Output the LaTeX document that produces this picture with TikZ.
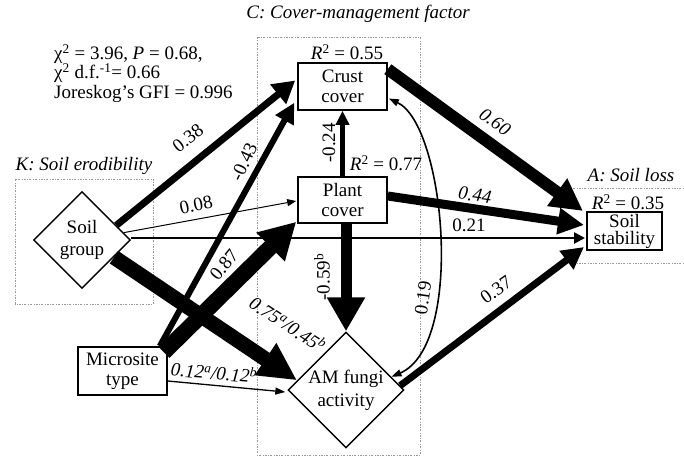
\documentclass[tikz,border=0pt]{standalone}
\usepackage{fontspec}
\setmainfont{Liberation Serif}
\usetikzlibrary{arrows.meta,shapes.geometric,calc}
\begin{document}
\begin{tikzpicture}[x=1pt,y=-1pt, font=\fontsize{19}{20}\selectfont,
 box/.style={draw, line width=1.6pt, fill=white, inner sep=0pt, minimum width=89pt, minimum height=47pt, align=center},
 dia/.style={draw, diamond, aspect=1, line width=1.4pt, fill=white, inner sep=0pt, minimum width=97pt, minimum height=97pt, align=center},
 region/.style={draw=gray!80, line width=0.6pt, dash pattern=on 2pt off 1.5pt on 0.6pt off 1.5pt},
 lab/.style={inner sep=0pt},
 itl/.style={inner sep=0pt, font=\fontsize{19}{20}\selectfont\itshape},
 hd/.style 2 args={-{Triangle[length=#1pt,width=#2pt]}}
]
\useasboundingbox (0,0) rectangle (684,457);

% regions
\draw[region] (257,37) rectangle (420,455);
\draw[region] (15,179) rectangle (153,304);
\draw[region] (573,188) -- (684,188);
\draw[region] (573,263) -- (684,263);

\node[itl] (ttlC) at (358,14) {C: Cover-management factor};
\node[itl] (ttlK) at (84,166) {K: Soil erodibility};
\node[itl] (ttlA) at (631,175) {A: Soil loss};

\node[lab, anchor=north west, align=left, font=\fontsize{19}{19.5}\selectfont] (stats) at (54,44)
  {χ\textsuperscript{2} = 3.96, \textit{P} = 0.68,\\ χ\textsuperscript{2} d.f.\textsuperscript{-1}= 0.66\\ Joreskog’s GFI = 0.996};

% nodes
\node[box] (crust) at (342.5,86.5) {Crust\\cover};
\node[box, minimum height=46pt] (plant) at (342.5,200) {Plant\\cover};
\node[box, minimum width=75pt, minimum height=38pt, line width=2pt, font=\fontsize{19}{17}\selectfont] (ss) at (624.5,231) {Soil\\stability};
\node[box, minimum height=48pt] (micro) at (122.5,371) {Microsite\\type};
\node[dia, font=\fontsize{19}{22}\selectfont] (sg) at (82,240) {Soil\\group};
\node[dia, minimum width=96pt, minimum height=96pt, font=\fontsize{19}{23}\selectfont] (am) at (346,390) {AM fungi\\activity};

\node[lab] (r55) at (347,52) {\textit{R}\textsuperscript{2} = 0.55};
\node[lab] (r77) at (386,163) {\textit{R}\textsuperscript{2} = 0.77};
\node[lab] (r35) at (628,202) {\textit{R}\textsuperscript{2} = 0.35};

% connectors
\draw[line width=2.5pt, hd={11}{11}] ($(sg.east)+(0,-2)$) -- ($(ss.west)+(-1,7)$);
\draw[line width=1pt, hd={9}{7}] ($(sg.north east)!0.7!(sg.east)$) -- ($(plant.west)+(-1,1)$);
\draw[line width=7pt, hd={22}{24}] ($(sg.north east)!0.4!(sg.east)$) -- ($(crust.west)+(-2,-6)$);
\draw[line width=6pt, hd={20}{20}] ($(micro.north east)+(-8,0)$) -- ($(crust.south west)+(-3,-8)$);
\draw[line width=16pt, hd={36}{38}] ($(micro.north east)+(-4,6)$) -- ($(plant.south west)+(-1,-2)$);
\draw[line width=15pt, hd={38}{36}] ($(sg.east)!0.7!(sg.south east)$) -- ($(am.west)!0.33!(am.north west)$);
\draw[line width=1.3pt, hd={10}{7}] ($(micro.east)+(0,10)$) -- ($(am.west)+(-2,2)$);
\draw[line width=4.5pt, hd={14}{13}] (plant.north) -- (crust.south);
\draw[line width=11pt, hd={34}{36}] (am.north |- plant.south) -- (am.north);
\draw[line width=9pt, hd={26}{25}] ($(plant.east)+(0,-4)$) -- ($(ss.west)+(-2,-6)$);
\draw[line width=12pt, hd={32}{32}] ($(crust.north east)+(0,7)$) -- ($(ss.north west)+(-3,0)$);
\draw[line width=7pt, hd={22}{22}] ($(am.east)!0.15!(am.north east)$) -- ($(ss.south west)+(-2,-4)$);
\draw[line width=1.6pt, {Triangle[length=10pt,width=7pt]}-{Triangle[length=10pt,width=7pt]}]
  ($(crust.east)+(1,12)$) .. controls (445,125) and (465,345) .. ($(am.east)!0.45!(am.north east)$);

% labels
\node[lab, rotate=38] (l38) at (188,138) {0.38};
\node[lab, rotate=12] (l08) at (196,205) {0.08};
\node[lab] (l21) at (469,225) {0.21};
\node[itl, rotate=-8] (l44) at (475,195) {0.44};
\node[itl, rotate=-35] (l60) at (495,122) {0.60};
\node[lab, rotate=35] (l37) at (496,290) {0.37};
\node[lab, rotate=82] (l19) at (423,298) {0.19};
\node[lab, rotate=90] (l24) at (329,143) {-0.24};
\node[lab, rotate=90] (l59) at (322,277) {-0.59\textsuperscript{b}};
\node[lab, rotate=65] (l43) at (244,162) {-0.43};
\node[lab, rotate=50] (l87) at (224,265) {0.87};
\node[itl, rotate=-33] (l75) at (288,324) {0.75\textsuperscript{a}/0.45\textsuperscript{b}};
\node[itl, rotate=-5] (l12) at (214,372) {0.12\textsuperscript{a}/0.12\textsuperscript{b}};
\end{tikzpicture}
\end{document}
